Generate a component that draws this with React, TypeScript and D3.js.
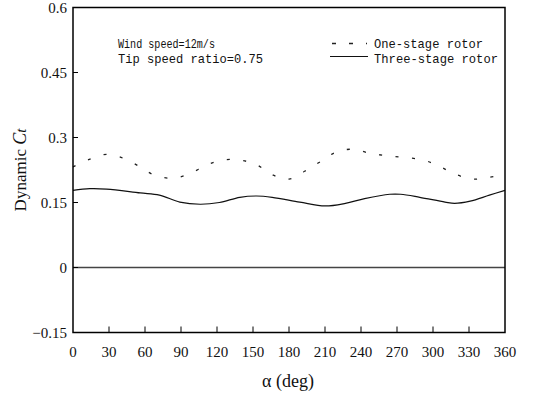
import React from "react";
import * as d3 from "d3";

const xTicks = [0, 30, 60, 90, 120, 150, 180, 210, 240, 270, 300, 330, 360];
const yTicks = [-0.15, 0, 0.15, 0.3, 0.45, 0.6];
const yTickLabels = ["-0.15", "0", "0.15", "0.3", "0.45", "0.6"];

const oneStageAngles = [0, 13, 28, 42, 56, 68, 83, 97, 111, 125, 139, 153, 167, 180, 193, 206, 219, 233, 247, 261, 276, 292, 305, 318, 333, 347, 360];
const oneStage = [0.232, 0.249, 0.261, 0.252, 0.232, 0.213, 0.206, 0.216, 0.236, 0.248, 0.248, 0.237, 0.213, 0.204, 0.222, 0.244, 0.266, 0.273, 0.264, 0.258, 0.254, 0.248, 0.234, 0.216, 0.204, 0.208, 0.215];

const threeStageAngles = [0, 14, 28, 56, 72, 89, 106, 122, 139, 153, 166, 189, 210, 227, 243, 264, 273, 289, 310, 318, 331, 347, 360];
const threeStage = [0.178, 0.182, 0.181, 0.172, 0.167, 0.151, 0.146, 0.150, 0.162, 0.165, 0.162, 0.151, 0.142, 0.148, 0.159, 0.169, 0.169, 0.162, 0.151, 0.148, 0.153, 0.167, 0.178];

const W = 546, H = 394;
const L = 73, R = 505, T = 7.5, B = 332.5;

export default function App() {
  const x = d3.scaleLinear().domain([0, 360]).range([L, R]);
  const y = d3.scaleLinear().domain([-0.15, 0.6]).range([B, T]);
  const line = d3.line<[number, number]>().x(d => x(d[0])).y(d => y(d[1])).curve(d3.curveCatmullRom);
  const one = line(oneStageAngles.map((a, i) => [a, oneStage[i]] as [number, number])) || "";
  const three = line(threeStageAngles.map((a, i) => [a, threeStage[i]] as [number, number])) || "";
  const serif = "'Liberation Serif', 'DejaVu Serif', serif";
  const mono = "'Liberation Mono', 'DejaVu Sans Mono', monospace";
  return (
    <svg width={W} height={H} style={{ position: "absolute", left: 0, top: 0, background: "#fff" }}>
      <rect x={0} y={0} width={W} height={H} fill="#fff" />
      <line x1={L} x2={R} y1={y(0)} y2={y(0)} stroke="#444" strokeWidth={1.4} />
      <path d={one} fill="none" stroke="#222" strokeWidth={1.3} strokeDasharray="3,13.5" />
      <path d={three} fill="none" stroke="#111" strokeWidth={1.2} />
      <rect x={L} y={T} width={R - L} height={B - T} fill="none" stroke="#000" strokeWidth={1.5} />
      {xTicks.map(t => (
        <g key={"x" + t}>
          {t > 0 && t < 360 && <line x1={x(t)} x2={x(t)} y1={B} y2={B - 6} stroke="#000" strokeWidth={1} />}
          <text x={x(t)} y={357} textAnchor="middle" fontFamily={serif} fontSize={15} fill="#111">{t}</text>
        </g>
      ))}
      {yTicks.map((t, i) => (
        <g key={"y" + t}>
          {i > 0 && i < yTicks.length - 1 && <line x1={L} x2={L + 5} y1={y(t)} y2={y(t)} stroke="#000" strokeWidth={1} />}
          <text x={67} y={y(t) + 5} textAnchor="end" fontFamily={serif} fontSize={15} fill="#111">{yTickLabels[i].replace("-", "\u2212")}</text>
        </g>
      ))}
      <text x={288} y={387} textAnchor="middle" fontFamily={serif} fontSize={18} fill="#111">α (deg)</text>
      <text transform="translate(26,170) rotate(-90)" textAnchor="middle" fontFamily={serif} fontSize={17} fill="#111">
        Dynamic <tspan fontStyle="italic" fontSize={18}>C</tspan><tspan fontStyle="italic" fontSize={15}>t</tspan>
      </text>
      <text x={118} y={48} fontFamily={mono} fontSize={13.5} textLength={97} lengthAdjust="spacingAndGlyphs" fill="#111">Wind speed=12m/s</text>
      <text x={118} y={62.5} fontFamily={mono} fontSize={13.5} textLength={145} lengthAdjust="spacingAndGlyphs" fill="#111">Tip speed ratio=0.75</text>
      <line x1={332} x2={367} y1={43.5} y2={43.5} stroke="#222" strokeWidth={1.3} strokeDasharray="4,13" />
      <line x1={330} x2={368} y1={56.5} y2={56.5} stroke="#111" strokeWidth={1.2} />
      <text x={374} y={48} fontFamily={mono} fontSize={13.5} textLength={109} lengthAdjust="spacingAndGlyphs" fill="#111">One-stage rotor</text>
      <text x={374} y={62.5} fontFamily={mono} fontSize={13.5} textLength={124} lengthAdjust="spacingAndGlyphs" fill="#111">Three-stage rotor</text>
    </svg>
  );
}
